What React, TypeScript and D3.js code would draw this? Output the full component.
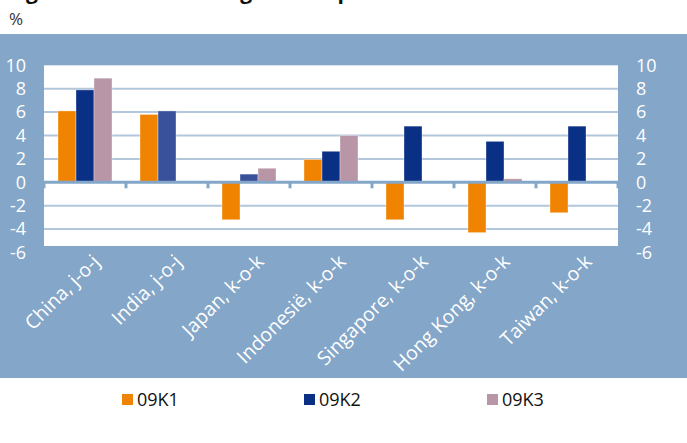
import React from "react";
import * as d3 from "d3";

// categories and quarterly growth (%)
const categories = [
  "China, j-o-j",
  "India, j-o-j",
  "Japan, k-o-k",
  "Indonesië, k-o-k",
  "Singapore, k-o-k",
  "Hong Kong, k-o-k",
  "Taiwan, k-o-k",
];
const seriesNames = ["09K1", "09K2", "09K3"];
const k1 = [6.1, 5.8, -3.2, 1.95, -3.2, -4.3, -2.6];
const k2 = [7.9, 6.1, 0.7, 2.65, 4.8, 3.5, 4.8];
const k3 = [8.9, null, 1.2, 4.0, null, 0.3, null];
const yTicks = [-6, -4, -2, 0, 2, 4, 6, 8, 10];

const colors = ["#f08300", "#0a3086", "#b996a7"];
// the 09K2 bars for India and Japan are drawn a shade lighter
const lighterK2 = new Set(["India, j-o-j", "Japan, k-o-k"]);

const W = 687;
const H = 443;
const bg = "#84a6c8";
const font = "'Open Sans', 'Noto Sans', sans-serif";

export default function App() {
  const left = 44;
  const right = 618;
  const x = d3.scaleBand().domain(categories).range([left, right]);
  const xs = d3
    .scaleBand()
    .domain(seriesNames)
    .range([14, x.bandwidth() - 14]);
  const y = d3.scaleLinear().domain([-6, 10]).range([252.5, 65.3]);

  const values = [k1, k2, k3];
  const bars = [];
  values.forEach((arr, si) => {
    arr.forEach((v, ci) => {
      if (v === null) return;
      const cat = categories[ci];
      let fill = colors[si];
      if (si === 1 && lighterK2.has(cat)) fill = "#38519a";
      bars.push({
        key: si + "-" + ci,
        x: (x(cat) as number) + (xs(seriesNames[si]) as number),
        y: y(Math.max(0, v)),
        h: Math.abs(y(v) - y(0)),
        fill,
      });
    });
  });

  const boundaries = d3.range(categories.length + 1).map((i) =>
    i === categories.length ? right : (x(categories[i]) as number)
  );

  return (
    <svg
      width={W}
      height={H}
      style={{ position: "absolute", left: 0, top: 0, background: "#fff" }}
      fontFamily={font}
    >
      <text x={8} y={-1} fontSize={21} fontWeight="bold" fill="#111">
        Figuur 2 Economische groei in opkomend Azië
      </text>
      <text x={9} y={25} fontSize={17} fill="#333">
        %
      </text>

      <rect x={0} y={34} width={W} height={344} fill={bg} />
      <rect
        x={left}
        y={y(10)}
        width={right - left}
        height={246 - y(10)}
        fill="#fff"
      />

      {yTicks
        .filter((t) => t !== 0 && t > -6 && t < 10)
        .map((t) => (
          <line
            key={"g" + t}
            x1={left}
            x2={right}
            y1={y(t)}
            y2={y(t)}
            stroke="#b3c7dc"
            strokeWidth={2}
          />
        ))}

      {bars.map((b) => (
        <rect
          key={b.key}
          x={b.x}
          y={b.y}
          width={xs.bandwidth()}
          height={b.h}
          fill={b.fill}
          stroke="#ffffff"
          strokeOpacity={0.35}
          strokeWidth={1}
        />
      ))}

      <line
        x1={left}
        x2={right}
        y1={y(0)}
        y2={y(0)}
        stroke={bg}
        strokeWidth={3}
      />
      {boundaries.map((bx, i) => (
        <line
          key={"t" + i}
          x1={bx}
          x2={bx}
          y1={y(0)}
          y2={y(0) + 6}
          stroke={bg}
          strokeWidth={3}
        />
      ))}

      {yTicks.map((t) => (
        <g key={"l" + t} fontSize={18} fill="#fff">
          <text x={26} y={y(t)} dy="0.35em" textAnchor="end">
            {t}
          </text>
          <text x={636} y={y(t)} dy="0.35em" textAnchor="start">
            {t}
          </text>
        </g>
      ))}

      {categories.map((c) => (
        <text
          key={c}
          transform={`translate(${(x(c) as number) + x.bandwidth() / 2 + 6},${253}) rotate(-45)`}
          textAnchor="end"
          dy="0.72em"
          fontSize={19.5}
          fill="#fff"
        >
          {c}
        </text>
      ))}

      {seriesNames.map((s, i) => {
        const lx = [122, 304, 487][i];
        return (
          <g key={s}>
            <rect x={lx} y={394} width={11} height={11} fill={colors[i]} />
            <text x={lx + 15} y={406} fontSize={18} fill="#111">
              {s}
            </text>
          </g>
        );
      })}
    </svg>
  );
}
